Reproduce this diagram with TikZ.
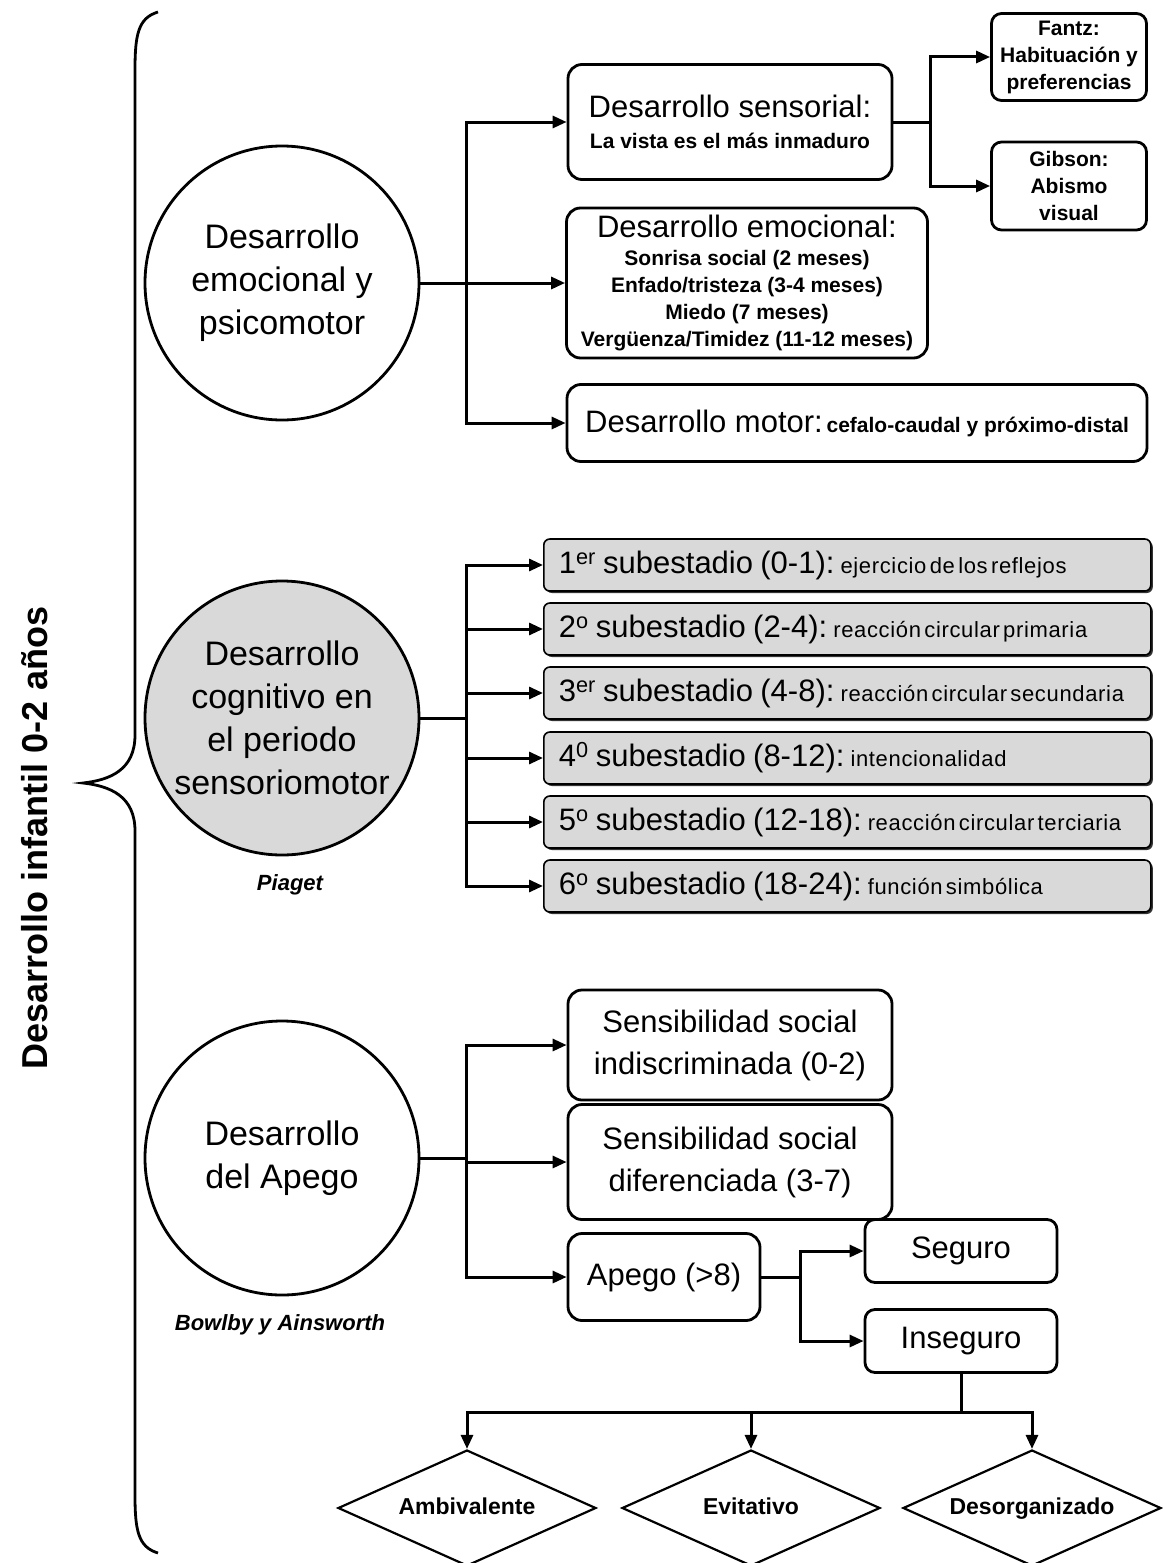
\documentclass[tikz,border=0pt]{standalone}
\usepackage{fontspec}
\setmainfont{Liberation Sans}
\usetikzlibrary{positioning,arrows.meta,shapes.geometric,shadows}

\begin{document}
\begin{tikzpicture}[x=1pt,y=-1pt,
    every node/.style={align=center,inner sep=0pt},
    circ/.style={draw,circle,line width=2.8pt,minimum size=274pt,font=\fontsize{34}{43}\selectfont},
    caja/.style={draw,rounded corners=14pt,line width=2.8pt,fill=white},
    etapa/.style={draw,rounded corners=6pt,line width=1.6pt,fill=gray!30,
      text width=577pt,inner xsep=15pt,minimum height=52pt,align=left,anchor=west,
      drop shadow={shadow xshift=2pt,shadow yshift=-2pt,fill=black!80,opacity=1}},
    rombo/.style={draw,diamond,aspect=2.22,line width=2.2pt,minimum width=258pt,minimum height=116pt,
      text height=17pt,text depth=5pt,font=\bfseries\fontsize{23}{26}\selectfont},
    autor/.style={font=\bfseries\itshape\fontsize{22}{26}\selectfont},
    flecha/.style={line width=3pt,-{Triangle[length=14pt,width=12pt]}},
    grande/.style={font=\fontsize{31}{42}\selectfont},
    chica/.style={font=\bfseries\fontsize{21}{27}\selectfont}]
  \useasboundingbox (0,0) rectangle (1162,1563);
  \draw[line width=2.8pt] (158,12) .. controls (138,18) and (135,35) .. (135,70)
    -- (135,735) .. controls (135,770) and (110,780) .. (83,783)
    .. controls (110,786) and (135,796) .. (135,831)
    -- (135,1495) .. controls (135,1530) and (138,1547) .. (158,1553);
  \node[rotate=90,font=\bfseries\fontsize{36}{40}\selectfont] (titulo) at (35,838) {Desarrollo infantil 0-2 años};

  \node[circ] (emo) at (282,283) {Desarrollo\\emocional y\\psicomotor};
  \node[circ,fill=gray!30] (cog) at (282,718) {Desarrollo\\cognitivo en\\el periodo\\sensoriomotor};
  \node[circ] (ape) at (282,1158) {Desarrollo\\del Apego};
  \node[autor] (piaget) at (290,885) {Piaget};
  \node[autor] (bowlby) at (280,1325) {Bowlby y Ainsworth};

  \node[caja,chica,minimum width=324pt,minimum height=115pt] (sens) at (730,122)
    {{\mdseries\fontsize{31}{36}\selectfont Desarrollo sensorial:}\\[4pt]La vista es el más inmaduro};
  \node[caja,chica,minimum width=361pt,minimum height=150pt] (emoc) at (747,283)
    {{\mdseries\fontsize{31}{36}\selectfont Desarrollo emocional:}\\[1pt]Sonrisa social (2 meses)\\Enfado/tristeza (3-4 meses)\\Miedo (7 meses)\\Vergüenza/Timidez (11-12 meses)};
  \node[caja,minimum width=580pt,minimum height=77pt] (mot) at (857,423)
    {{\fontsize{31}{36}\selectfont Desarrollo motor:} {\bfseries\fontsize{21}{24}\selectfont cefalo-caudal y próximo-distal}};
  \node[caja,chica,rounded corners=10pt,minimum width=155pt,minimum height=87pt] (fantz) at (1069,57)
    {Fantz:\\Habituación y\\preferencias};
  \node[caja,chica,rounded corners=10pt,minimum width=155pt,minimum height=88pt] (gibson) at (1069,186)
    {Gibson:\\Abismo\\visual};
  \coordinate (j1) at (466,0);
  \coordinate (j2) at (930,0);
  \foreach \n in {sens,emoc,mot} \draw[flecha] (emo.east) -- (emo.east -| j1) |- (\n.west);
  \foreach \n in {fantz,gibson} \draw[flecha] (sens.east) -- (sens.east -| j2) |- (\n.west);

  \newcommand\sub[3]{{\fontsize{31}{36}\selectfont #1\hspace{4pt} subestadio\hspace{4pt} (#2):}\hspace{6pt}{\fontsize{22}{24}\selectfont\addfontfeature{LetterSpace=3}#3}}
  \node[etapa] (s1) at (543,565) {\sub{1\textsuperscript{er}}{0-1}{ejercicio de los reflejos}};
  \node[etapa] (s2) at (543,629) {\sub{2\textsuperscript{o}}{2-4}{reacción circular primaria}};
  \node[etapa] (s3) at (543,693) {\sub{3\textsuperscript{er}}{4-8}{reacción circular secundaria}};
  \node[etapa] (s4) at (543,758) {\sub{4\textsuperscript{0}}{8-12}{intencionalidad}};
  \node[etapa] (s5) at (543,822) {\sub{5\textsuperscript{o}}{12-18}{reacción circular terciaria}};
  \node[etapa] (s6) at (543,886) {\sub{6\textsuperscript{o}}{18-24}{función simbólica}};
  \foreach \n in {s1,s2,s3,s4,s5,s6} \draw[flecha] (cog.east) -- (cog.east -| j1) |- (\n.west);

  \node[caja,grande,minimum width=324pt,minimum height=110pt] (indis) at (730,1045) {Sensibilidad social\\indiscriminada (0-2)};
  \node[caja,grande,minimum width=324pt,minimum height=115pt] (dif) at (730,1162) {Sensibilidad social\\diferenciada (3-7)};
  \node[caja,grande,minimum width=192pt,minimum height=87pt] (apego) at (664,1277) {Apego (>8)};
  \node[caja,grande,rounded corners=10pt,minimum width=192pt,minimum height=63pt] (seg) at (961,1251) {Seguro};
  \node[caja,grande,rounded corners=10pt,minimum width=192pt,minimum height=63pt] (inseg) at (961,1341) {Inseguro};
  \coordinate (j3) at (800,0);
  \coordinate (j4) at (0,1412);
  \foreach \n in {indis,dif,apego} \draw[flecha] (ape.east) -- (ape.east -| j1) |- (\n.west);
  \foreach \n in {seg,inseg} \draw[flecha] (apego.east) -- (apego.east -| j3) |- (\n.west);

  \node[rombo] (amb) at (467,1508) {Ambivalente};
  \node[rombo] (evi) at (751,1508) {Evitativo};
  \node[rombo] (deso) at (1032,1508) {Desorganizado};
  \foreach \n in {amb,evi,deso} \draw[flecha] (inseg.south) -- (inseg.south |- j4) -| (\n.north);
\end{tikzpicture}
\end{document}
